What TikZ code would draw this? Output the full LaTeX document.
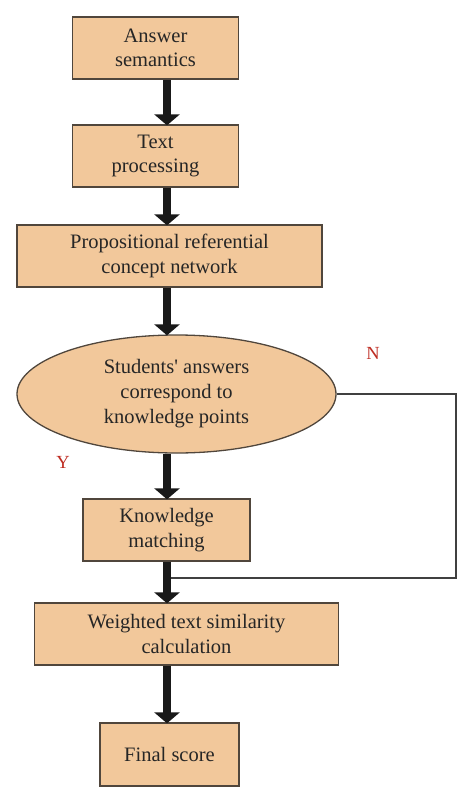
\documentclass[tikz,border=0pt]{standalone}
\usepackage{fontspec}
\setmainfont{Liberation Serif}
\usetikzlibrary{shapes.geometric,arrows.meta}
\definecolor{boxfill}{RGB}{242,200,155}
\definecolor{boxline}{RGB}{80,70,60}
\definecolor{lblred}{RGB}{190,45,35}
\tikzset{
  stepbox/.style={draw=boxline, line width=1.3pt, fill=boxfill, inner sep=0pt, align=center,
    font=\fontsize{20.5}{24.5}\selectfont, text=black!85},
  decision/.style={ellipse, draw=boxline, line width=1.3pt, fill=boxfill, inner sep=0pt, align=center,
    font=\fontsize{20.5}{25}\selectfont, text=black!85},
  bigarrow/.style={line width=8pt, draw=black!90, -{Triangle[width=25pt,length=11pt]}, shorten >=-1pt},
  thinline/.style={line width=1.2pt, draw=black!75},
  yn/.style={text=lblred, font=\fontsize{18.5}{20}\selectfont}
}
\begin{document}
\begin{tikzpicture}[x=1pt,y=-1pt]
\useasboundingbox (0,0) rectangle (474,803);
\node[stepbox, minimum width=166pt, minimum height=62pt] (b1) at (155.5,48) {Answer\\semantics};
\node[stepbox, minimum width=166pt, minimum height=62pt] (b2) at (155.5,156) {Text\\processing};
\node[stepbox, minimum width=305pt, minimum height=62pt] (b3) at (169.5,256) {Propositional referential\\concept network};
\node[decision, minimum width=319pt, minimum height=118pt] (ell) at (176.5,394) {Students\textquotesingle\ answers\\correspond to\\knowledge points};
\node[stepbox, minimum width=167pt, minimum height=62pt] (b4) at (166.5,530) {Knowledge\\matching};
\node[stepbox, minimum width=304pt, minimum height=62pt] (b5) at (186.5,634) {Weighted text similarity\\calculation};
\node[stepbox, minimum width=139pt, minimum height=63pt] (b6) at (169.5,754.5) {Final score};
\node[yn] (N) at (373,353) {N};
\node[yn] (Y) at (63,462) {Y};
\coordinate (ax) at (167,0);
\coordinate (rx) at (456,0);
\coordinate (join) at (167,578);
\draw[thinline] (ell.east) -- (ell.east -| rx) |- (join);
\draw[bigarrow] (b1.south -| ax) -- (b2.north -| ax);
\draw[bigarrow] (b2.south -| ax) -- (b3.north -| ax);
\draw[bigarrow] (b3.south -| ax) -- (ell.north -| ax);
\draw[bigarrow] (ell.south -| ax) -- (b4.north -| ax);
\draw[bigarrow] (b4.south -| ax) -- (b5.north -| ax);
\draw[bigarrow] (b5.south -| ax) -- (b6.north -| ax);
\end{tikzpicture}
\end{document}
